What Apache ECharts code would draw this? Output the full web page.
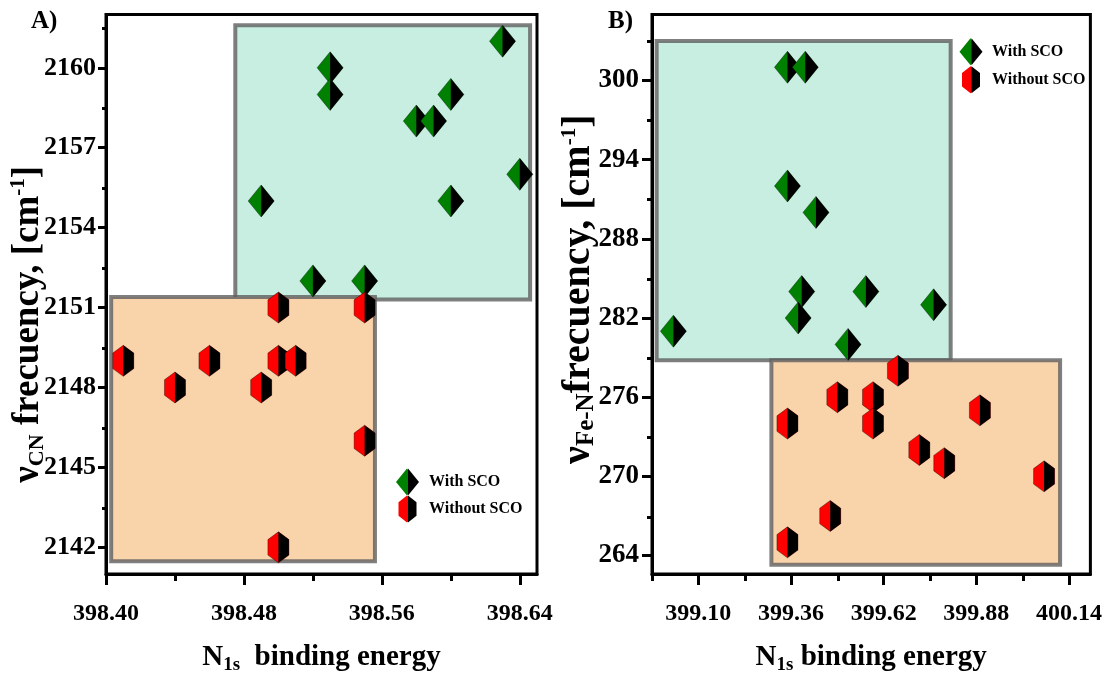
<!DOCTYPE html>
<html><head><meta charset="utf-8">
<script src="https://cdn.jsdelivr.net/npm/echarts@6/dist/echarts.min.js"></script>
<style>html,body{margin:0;padding:0;background:#fff}#c{width:1105px;height:680px}</style>
</head><body><div id="c"></div>
<script>
// ---------- data ----------
const aWithSCO = [[398.63,2161],[398.53,2160],[398.53,2159],[398.60,2159],[398.58,2158],[398.59,2158],[398.64,2156],[398.49,2155],[398.60,2155],[398.52,2152],[398.55,2152]];
const aWithoutSCO = [[398.41,2149],[398.44,2148],[398.46,2149],[398.50,2151],[398.50,2149],[398.51,2149],[398.49,2148],[398.55,2151],[398.55,2146],[398.50,2142]];
const bWithSCO = [[399.35,301],[399.40,301],[399.35,292],[399.43,290],[399.39,284],[399.38,282],[399.57,284],[399.76,283],[399.03,281],[399.52,280]];
const bWithoutSCO = [[399.66,278],[399.49,276],[399.59,276],[399.59,274],[399.35,274],[399.89,275],[399.72,272],[399.79,271],[400.07,270],[399.47,267],[399.35,265]];

const aXTicks = [398.40,398.48,398.56,398.64];
const aXMinor = [398.44,398.52,398.60];
const aYTicks = [2142,2145,2148,2151,2154,2157,2160];
const aYMinor = [2143.5,2146.5,2149.5,2152.5,2155.5,2158.5,2161.5];
const bXTicks = [399.10,399.36,399.62,399.88,400.14];
const bXMinor = [398.97,399.23,399.49,399.75,400.01];
const bYTicks = [264,270,276,282,288,294,300];
const bYMinor = [267,273,279,285,291,297,303];

const aXRange = [398.40, 398.65], aYRange = [2141, 2162];
const bXRange = [398.97, 400.20], bYRange = [262.6, 305];

const aRegionSCO = [[398.475,2161.6],[398.646,2151.3]];
const aRegionNoSCO = [[398.403,2151.4],[398.556,2141.48]];
const bRegionSCO = [[398.983,303.0],[399.808,278.8]];
const bRegionNoSCO = [[399.305,278.8],[400.115,263.3]];

const legendNames = ['With SCO','Without SCO'];

// ---------- styling ----------
const FONT = '"Liberation Serif","Times New Roman",serif';
const GREEN = '#008000', RED = '#ff0000';
const FILL_G = '#c7eee1', FILL_O = '#f9d3aa';
const DIAMOND = 'path://M11 0L22 13.5L11 27L0 13.5Z';
const HEX = 'path://M8.5 0L17 6.75L17 20.25L8.5 27L0 20.25L0 6.75Z';

const gridA = {left:106, top:14.5, width:431, height:560.5};
const gridB = {left:652, top:14.5, width:439.5, height:560.5};

function markerRender(kind, fill){
  return function(params, api){
    const p = api.coord([api.value(0), api.value(1)]);
    const x = p[0], y = p[1];
    let full, half;
    if (kind === 'd'){
      const w = 26, h = 32;
      full = [[x,y-h/2],[x+w/2,y],[x,y+h/2],[x-w/2,y]];
      half = [[x,y-h/2],[x+w/2,y],[x,y+h/2]];
    } else {
      const w = 21, h = 31;
      full = [[x,y-h/2],[x+w/2,y-h/4],[x+w/2,y+h/4],[x,y+h/2],[x-w/2,y+h/4],[x-w/2,y-h/4]];
      half = [[x,y-h/2],[x+w/2,y-h/4],[x+w/2,y+h/4],[x,y+h/2]];
    }
    return {type:'group', children:[
      {type:'polygon', shape:{points:full}, style:{fill:fill, stroke:'rgba(0,0,0,0.45)', lineWidth:0.8}},
      {type:'polygon', shape:{points:half}, style:{fill:'#000'}}
    ]};
  };
}

function markSeries(xi, regions){
  return {type:'scatter', xAxisIndex:xi, yAxisIndex:xi, data:[], z:1, silent:true,
    markArea:{silent:true, label:{show:false},
      data: regions.map(r => [{coord:r.c[0], itemStyle:{color:r.fill, borderColor:'rgba(95,95,95,0.8)', borderWidth:4}}, {coord:r.c[1]}])
    }};
}

function pointSeries(name, xi, data, kind, fill){
  return {type:'custom', name:name, xAxisIndex:xi, yAxisIndex:xi, data:data, z:5,
    itemStyle:{color:fill}, renderItem: markerRender(kind, fill)};
}

const labelStyle = {fontFamily:FONT, fontWeight:'bold', color:'#000'};
const axLine = {show:true, onZero:false, lineStyle:{color:'#000', width:3}};

function xMain(gi, range, ticks, name){
  return {type:'value', gridIndex:gi, min:range[0], max:range[1], position:'bottom',
    axisLine:axLine, splitLine:{show:false},
    axisTick:{show:true, customValues:ticks, length:11, lineStyle:{color:'#000', width:3}},
    axisLabel:Object.assign({customValues:ticks, margin:28, fontSize:24, formatter:v=>Number(v).toFixed(2)}, labelStyle),
    name:name, nameLocation:'middle', nameGap:67, nameMoveOverlap:false,
    nameTextStyle:{rich:{
      t:{fontSize:29, fontFamily:FONT, fontWeight:'bold', color:'#000', lineHeight:34},
      s:{fontSize:19, fontFamily:FONT, fontWeight:'bold', color:'#000', lineHeight:14, verticalAlign:'bottom'}
    }}};
}
function yMain(gi, range, ticks, name, fs, tickLen, margin, gap, pad, tfs, sfs){
  return {type:'value', gridIndex:gi, min:range[0], max:range[1], position:'left',
    axisLine:axLine, splitLine:{show:false},
    axisTick:{show:true, customValues:ticks, length:tickLen, lineStyle:{color:'#000', width:3}},
    axisLabel:Object.assign({customValues:ticks, margin:margin, fontSize:fs, formatter:v=>String(v)}, labelStyle),
    name:name, nameLocation:'middle', nameGap:gap, nameRotate:90, nameMoveOverlap:false,
    nameTextStyle:{padding:pad, rich:{
      t:{fontSize:tfs, fontFamily:FONT, fontWeight:'bold', color:'#000', lineHeight:40},
      s:{fontSize:sfs, fontFamily:FONT, fontWeight:'bold', color:'#000', lineHeight:18, verticalAlign:'bottom'},
      p:{fontSize:21, fontFamily:FONT, fontWeight:'bold', color:'#000', lineHeight:18, verticalAlign:'top'}
    }}};
}
function xMinor(gi, range, ticks, len){
  return {type:'value', gridIndex:gi, min:range[0], max:range[1], position:'bottom',
    axisLine:{show:false}, splitLine:{show:false}, axisLabel:{show:false},
    axisTick:{show:true, customValues:ticks, length:len, lineStyle:{color:'#000', width:3}}};
}
function yMinor(gi, range, ticks, len){
  return {type:'value', gridIndex:gi, min:range[0], max:range[1], position:'left',
    axisLine:{show:false}, splitLine:{show:false}, axisLabel:{show:false},
    axisTick:{show:true, customValues:ticks, length:len, lineStyle:{color:'#000', width:3}}};
}

// legend placement
const LW = 24, LH = 27;
const legA = {left:396, top:468.5, gap:0, pad:5};
const legB = {left:959.5, top:38.2, gap:1, pad:4.5};

function legend(L){
  return {orient:'vertical', left:L.left, top:L.top, padding:0, itemGap:L.gap,
    itemWidth:LW, itemHeight:LH, selectedMode:false, symbolKeepAspect:true,
    textStyle:{fontFamily:FONT, fontWeight:'bold', fontSize:16, color:'#000', padding:[0,0,0,L.pad]},
    data:[{name:legendNames[0], icon:DIAMOND}, {name:legendNames[1], icon:HEX}]};
}
function legendHalves(L){
  const cx = L.left + LW/2;
  const cy0 = L.top + LH/2, cy1 = L.top + LH + L.gap + LH/2;
  const sd = Math.min(LW/22, LH/27), dw = 22*sd, dh = 27*sd;
  const sh = Math.min(LW/17, LH/27), hw = 17*sh, hh = 27*sh;
  return [
    {type:'polygon', z:100, shape:{points:[[cx,cy0-dh/2],[cx+dw/2,cy0],[cx,cy0+dh/2]]}, style:{fill:'#000'}},
    {type:'polygon', z:100, shape:{points:[[cx,cy1-hh/2],[cx+hw/2,cy1-hh/4],[cx+hw/2,cy1+hh/4],[cx,cy1+hh/2]]}, style:{fill:'#000'}}
  ];
}

const option = {
  backgroundColor:'#fff',
  animation:false,
  title:[
    {text:'A)', left:31, top:9, padding:0, textStyle:{fontFamily:FONT, fontWeight:'bold', fontSize:25, color:'#000'}},
    {text:'B)', left:608, top:9, padding:0, textStyle:{fontFamily:FONT, fontWeight:'bold', fontSize:25, color:'#000'}}
  ],
  grid:[
    Object.assign({show:true, borderColor:'#000', borderWidth:3, backgroundColor:'transparent'}, gridA),
    Object.assign({show:true, borderColor:'#000', borderWidth:3, backgroundColor:'transparent'}, gridB),
    Object.assign({show:false}, gridA),
    Object.assign({show:false}, gridB)
  ],
  xAxis:[
    xMain(0, aXRange, aXTicks, '{t|N}{s|1s}{t|  binding energy}'),
    xMain(1, bXRange, bXTicks, '{t|N}{s|1s}{t| binding energy}'),
    xMinor(2, aXRange, aXMinor, 6),
    xMinor(3, bXRange, bXMinor, 6)
  ],
  yAxis:[
    yMain(0, aYRange, aYTicks, '{t|ν}{s|CN}{t| frecuency, [cm}{p|-1}{t|]}', 26, 8, 10, 58, [0,60,0,0], 37, 22),
    yMain(1, bYRange, bYTicks, '{t|ν}{s|Fe-N}{t|frecuency, [cm}{p|-1}{t|]}', 27, 10, 13, 53, [0,0,0,10], 40, 25),
    yMinor(2, aYRange, aYMinor, 4),
    yMinor(3, bYRange, bYMinor, 5)
  ],
  legend:[legend(legA), legend(legB)],
  graphic: legendHalves(legA).concat(legendHalves(legB)),
  series:[
    markSeries(0, [{c:aRegionSCO, fill:FILL_G}, {c:aRegionNoSCO, fill:FILL_O}]),
    markSeries(1, [{c:bRegionSCO, fill:FILL_G}, {c:bRegionNoSCO, fill:FILL_O}]),
    pointSeries(legendNames[0], 0, aWithSCO, 'd', GREEN),
    pointSeries(legendNames[1], 0, aWithoutSCO, 'h', RED),
    pointSeries(legendNames[0], 1, bWithSCO, 'd', GREEN),
    pointSeries(legendNames[1], 1, bWithoutSCO, 'h', RED)
  ]
};
const chart = echarts.init(document.getElementById('c'), null, {renderer:'canvas'});
chart.setOption(option);
</script>
</body></html>
